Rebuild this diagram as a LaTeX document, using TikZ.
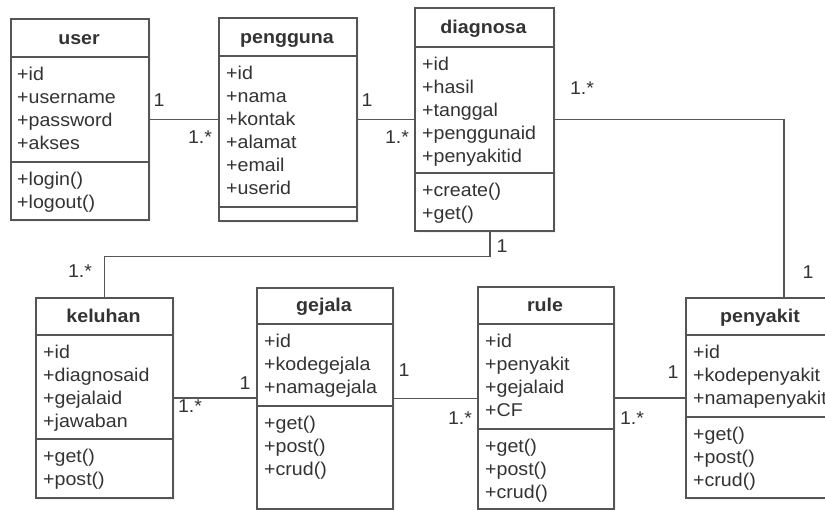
\documentclass[tikz,border=0pt]{standalone}
\usepackage{fontspec}
\setmainfont{Liberation Sans}[FakeStretch=1.06]
\usetikzlibrary{shadows}
\definecolor{lc}{HTML}{555555}
\definecolor{tc}{HTML}{333333}
\newcommand\umlbox[8]{%
  \node[box, anchor=north west, minimum width={(#4-#2)*1pt}, minimum height={(#7-#3)*1pt}] (#1) at (#2,#3) {};
  \draw[sepline] (#2,#5) -- (#4,#5);
  \draw[sepline] (#2,#6) -- (#4,#6);
  \node[ttl] (#1-title) at ({(#2+#4)/2},{#3+(#5-#3)*0.67}) {#8};
}
\newcommand\umlmembers[4]{%
  \foreach \m [count=\i] in {#4} {\node[mem] (#1\i) at (#2,{#3+23*(\i-1)}) {\m};}
}
\begin{document}
\begin{tikzpicture}[x=1pt,y=-1pt,
  box/.style={draw=lc, line width=1.5pt, fill=white, inner sep=0pt, rectangle,
    drop shadow={shadow xshift=2pt, shadow yshift=-2pt, opacity=0.10}},
  sepline/.style={draw=lc, line width=1.5pt},
  conn/.style={draw=lc, line width=1.5pt},
  ttl/.style={font=\fontsize{18.5}{22}\selectfont\bfseries, text=tc, inner sep=0pt, anchor=base},
  mem/.style={font=\fontsize{18.5}{22}\selectfont, text=tc, inner sep=0pt, anchor=base west},
  mult/.style={font=\fontsize{18.5}{22}\selectfont, text=tc, inner sep=0pt}]
\useasboundingbox (0,0) rectangle (825,509);
\clip (0,0) rectangle (825,509);
\fill[white] (0,0) rectangle (825,509);

% user
\umlbox{user}{10}{18}{148}{57}{162}{219}{user}
\umlmembers{user-a}{17}{80}{+id,+username,+password,+akses}
\umlmembers{user-m}{17}{185}{+login(),+logout()}
% pengguna
\umlbox{pengguna}{218}{17}{356}{56}{207}{220}{pengguna}
\umlmembers{pengguna-a}{226}{79}{+id,+nama,+kontak,+alamat,+email,+userid}
% diagnosa
\umlbox{diagnosa}{414}{7}{553}{47}{173}{230}{diagnosa}
\umlmembers{diagnosa-a}{422}{70}{+id,+hasil,+tanggal,+penggunaid,+penyakitid}
\umlmembers{diagnosa-m}{422}{196}{+create(),+get()}
% keluhan
\umlbox{keluhan}{35}{297}{172}{335}{439}{497}{keluhan}
\umlmembers{keluhan-a}{43}{358}{+id,+diagnosaid,+gejalaid,+jawaban}
\umlmembers{keluhan-m}{43}{462}{+get(),+post()}
% gejala
\umlbox{gejala}{256}{287}{392}{324}{406}{508}{gejala}
\umlmembers{gejala-a}{264}{347}{+id,+kodegejala,+namagejala}
\umlmembers{gejala-m}{264}{429}{+get(),+post(),+crud()}
% rule
\umlbox{rule}{477}{286}{613}{324}{429}{508}{rule}
\umlmembers{rule-a}{485}{347}{+id,+penyakit,+gejalaid,+CF}
\umlmembers{rule-m}{485}{452}{+get(),+post(),+crud()}
% penyakit
\umlbox{penyakit}{685}{297}{835}{335}{417}{497}{penyakit}
\umlmembers{penyakit-a}{693}{358}{+id,+kodepenyakit,+namapenyakit}
\umlmembers{penyakit-m}{693}{440}{+get(),+post(),+crud()}

% connectors
\draw[conn] (user.east) -- (user.east -| pengguna.west);
\draw[conn] (pengguna.east) -- (pengguna.east -| diagnosa.west);
\draw[conn] (diagnosa.east) -| ([xshift=23pt]penyakit.north);
\draw[conn] ([xshift=5.5pt]diagnosa.south) -- ++(0,25) -| (keluhan.north);
\draw[conn] (keluhan.east) -- (keluhan.east -| gejala.west);
\draw[conn] (gejala.east) -- (gejala.east -| rule.west);
\draw[conn] (rule.east) -- (rule.east -| penyakit.west);

% multiplicities
\node[mult] (m1) at (159,100) {1};
\node[mult] (m2) at (200,137) {1.*};
\node[mult] (m3) at (367,100) {1};
\node[mult] (m4) at (397,137) {1.*};
\node[mult] (m5) at (582,88) {1.*};
\node[mult] (m6) at (808,272) {1};
\node[mult] (m7) at (502,246) {1};
\node[mult] (m8) at (80,271) {1.*};
\node[mult] (m9) at (190,406) {1.*};
\node[mult] (m10) at (245,383) {1};
\node[mult] (m11) at (404,370) {1};
\node[mult] (m12) at (460,418) {1.*};
\node[mult] (m13) at (632,418) {1.*};
\node[mult] (m14) at (673,372) {1};
\end{tikzpicture}
\end{document}
